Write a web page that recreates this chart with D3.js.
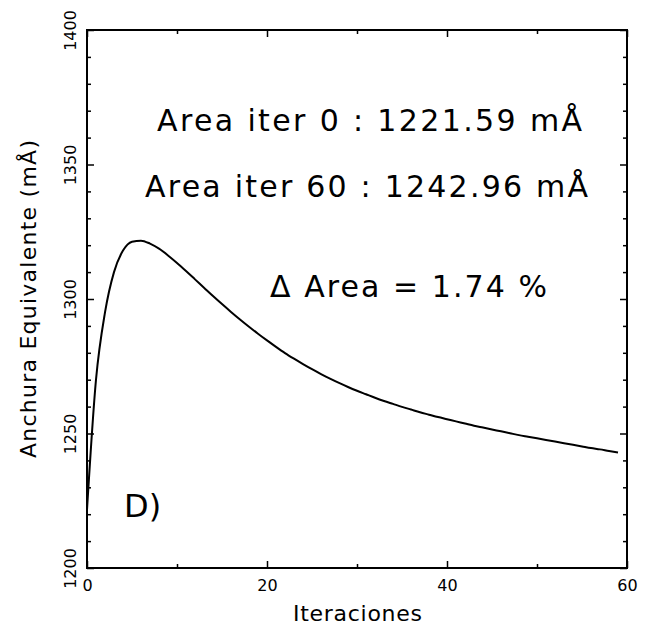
<!DOCTYPE html>
<html>
<head>
<meta charset="utf-8">
<script src="https://cdn.jsdelivr.net/npm/d3@7"></script>
<style>
  html, body { margin: 0; padding: 0; background: #fff; }
  svg { display: block; }
  text { font-family: "DejaVu Sans", sans-serif; fill: #000; }
</style>
</head>
<body>
<svg id="chart" width="647" height="627"></svg>
<script>
// Equivalent width per iteration (mÅ)
const iterations = d3.range(0, 60);
const equivWidth = [
  1221.59, 1270.0, 1295.0, 1310.0, 1318.0, 1321.3, 1321.7, 1320.6, 1318.7, 1316.2,
  1313.4, 1310.4, 1307.3, 1304.2, 1301.1, 1298.1, 1295.2, 1292.4, 1289.7, 1287.1,
  1284.6, 1282.2, 1279.9, 1277.8, 1275.8, 1273.9, 1272.1, 1270.4, 1268.8, 1267.3,
  1265.9, 1264.6, 1263.3, 1262.1, 1261.0, 1259.9, 1258.9, 1257.9, 1257.0, 1256.1,
  1255.3, 1254.5, 1253.7, 1252.9, 1252.2, 1251.5, 1250.8, 1250.1, 1249.4, 1248.8,
  1248.2, 1247.6, 1247.0, 1246.4, 1245.8, 1245.2, 1244.6, 1244.1, 1243.5, 1242.96
];

const xMajor = [0, 20, 40, 60];
const xMinor = [10, 30, 50];
const yMajor = [1200, 1250, 1300, 1350, 1400];
const yMinor = d3.range(1210, 1400, 10).filter(v => v % 50 !== 0);

const annotations = [
  "Area iter 0 : 1221.59 mÅ",
  "Area iter 60 : 1242.96 mÅ",
  "Δ Area = 1.74 %"
];
const panelLabel = "D)";
const xTitle = "Iteraciones";
const yTitle = "Anchura Equivalente (mÅ)";

const svg = d3.select("#chart");
const plotL = 87, plotR = 627, plotT = 30, plotB = 568;

const x = d3.scaleLinear().domain([0, 60]).range([plotL, plotR]);
const y = d3.scaleLinear().domain([1200, 1400]).range([plotB, plotT]);

const majorLen = 7, minorLen = 4;
const tickFont = 16;

function styleAxis(g) {
  g.select(".domain").remove();
  g.selectAll(".tick line").attr("stroke", "#000").attr("stroke-width", 1.5);
}

// bottom axis with labels
svg.append("g").attr("transform", `translate(0,${plotB})`)
  .call(d3.axisBottom(x).tickValues(xMajor).tickSize(-majorLen).tickPadding(12).tickFormat(d3.format("d")))
  .call(styleAxis)
  .call(g => g.selectAll(".tick text").attr("font-size", tickFont).attr("font-family", "DejaVu Sans"));
svg.append("g").attr("transform", `translate(0,${plotB})`)
  .call(d3.axisBottom(x).tickValues(xMinor).tickSize(-minorLen).tickFormat(""))
  .call(styleAxis);

// top axis, ticks only
svg.append("g").attr("transform", `translate(0,${plotT})`)
  .call(d3.axisTop(x).tickValues(xMajor).tickSize(-majorLen).tickFormat(""))
  .call(styleAxis);
svg.append("g").attr("transform", `translate(0,${plotT})`)
  .call(d3.axisTop(x).tickValues(xMinor).tickSize(-minorLen).tickFormat(""))
  .call(styleAxis);

// left axis with rotated labels
const leftAxis = svg.append("g").attr("transform", `translate(${plotL},0)`)
  .call(d3.axisLeft(y).tickValues(yMajor).tickSize(-majorLen).tickFormat(d3.format("d")))
  .call(styleAxis);
leftAxis.selectAll(".tick text")
  .attr("font-size", tickFont)
  .attr("font-family", "DejaVu Sans")
  .attr("x", null).attr("dy", null)
  .attr("text-anchor", "middle")
  .attr("transform", "translate(-11,0) rotate(-90)");
svg.append("g").attr("transform", `translate(${plotL},0)`)
  .call(d3.axisLeft(y).tickValues(yMinor).tickSize(-minorLen).tickFormat(""))
  .call(styleAxis);

// right axis, ticks only
svg.append("g").attr("transform", `translate(${plotR},0)`)
  .call(d3.axisRight(y).tickValues(yMajor).tickSize(-majorLen).tickFormat(""))
  .call(styleAxis);
svg.append("g").attr("transform", `translate(${plotR},0)`)
  .call(d3.axisRight(y).tickValues(yMinor).tickSize(-minorLen).tickFormat(""))
  .call(styleAxis);

// frame
svg.append("rect")
  .attr("x", plotL).attr("y", plotT)
  .attr("width", plotR - plotL).attr("height", plotB - plotT)
  .attr("fill", "none").attr("stroke", "#000").attr("stroke-width", 2);

// curve
const line = d3.line()
  .x((d, i) => x(iterations[i]))
  .y(d => y(d))
  .curve(d3.curveMonotoneX);
svg.append("path")
  .datum(equivWidth)
  .attr("d", line)
  .attr("fill", "none")
  .attr("stroke", "#000")
  .attr("stroke-width", 2);

// axis titles
svg.append("text")
  .attr("x", 293).attr("y", 621)
  .attr("font-size", 22)
  .attr("textLength", 129)
  .attr("lengthAdjust", "spacing")
  .text(xTitle);
svg.append("text")
  .attr("transform", `translate(36,458) rotate(-90)`)
  .attr("font-size", 22)
  .attr("textLength", 318)
  .attr("lengthAdjust", "spacing")
  .text(yTitle);

// annotations
const annPos = [
  { x: 157, y: 131, w: 425 },
  { x: 145, y: 197, w: 443 },
  { x: 270, y: 297, w: 277 }
];
annotations.forEach((t, i) => {
  svg.append("text")
    .attr("x", annPos[i].x).attr("y", annPos[i].y)
    .attr("font-size", 30)
    .attr("textLength", annPos[i].w)
    .attr("lengthAdjust", "spacing")
    .text(t);
});
svg.append("text")
  .attr("x", 124).attr("y", 517)
  .attr("font-size", 32)
  .text(panelLabel);
</script>
</body>
</html>
